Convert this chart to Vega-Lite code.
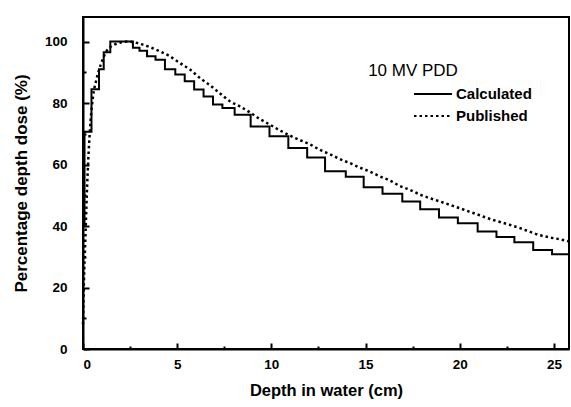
{
  "$schema": "https://vega.github.io/schema/vega-lite/v6.json",
  "width": 486,
  "height": 332,
  "autosize": "none",
  "padding": {"left": 83, "top": 17, "right": 2, "bottom": 58},
  "background": "white",
  "config": {
    "view": {"stroke": "black", "strokeWidth": 2},
    "font": "Liberation Sans",
    "axis": {
      "domainColor": "black", "domainWidth": 2, "tickColor": "black", "tickWidth": 2, "grid": false,
      "labelFont": "Liberation Sans", "labelFontWeight": "bold", "labelFontSize": 13.5, "labelColor": "black",
      "titleFont": "Liberation Sans", "titleFontWeight": "bold", "titleColor": "black"
    }
  },
  "datasets": {
    "calc": [
      {"series": "Calculated", "depth": 0, "dose": 40},
      {"series": "Calculated", "depth": 0.08, "dose": 70.7},
      {"series": "Calculated", "depth": 0.45, "dose": 84.5},
      {"series": "Calculated", "depth": 0.85, "dose": 91},
      {"series": "Calculated", "depth": 1.1, "dose": 96.5},
      {"series": "Calculated", "depth": 1.45, "dose": 100},
      {"series": "Calculated", "depth": 2.65, "dose": 98},
      {"series": "Calculated", "depth": 3.0, "dose": 97},
      {"series": "Calculated", "depth": 3.4, "dose": 95.2},
      {"series": "Calculated", "depth": 3.85, "dose": 94.1},
      {"series": "Calculated", "depth": 4.35, "dose": 91},
      {"series": "Calculated", "depth": 4.9, "dose": 89.3},
      {"series": "Calculated", "depth": 5.4, "dose": 87.1},
      {"series": "Calculated", "depth": 5.9, "dose": 84.4},
      {"series": "Calculated", "depth": 6.4, "dose": 82.1},
      {"series": "Calculated", "depth": 6.9, "dose": 79.5},
      {"series": "Calculated", "depth": 7.4, "dose": 78.4},
      {"series": "Calculated", "depth": 8.05, "dose": 76.2},
      {"series": "Calculated", "depth": 8.9, "dose": 72.4},
      {"series": "Calculated", "depth": 9.9, "dose": 69.2},
      {"series": "Calculated", "depth": 10.9, "dose": 65.4},
      {"series": "Calculated", "depth": 11.9, "dose": 62.3},
      {"series": "Calculated", "depth": 12.85, "dose": 57.8},
      {"series": "Calculated", "depth": 13.95, "dose": 56},
      {"series": "Calculated", "depth": 14.9, "dose": 52.6},
      {"series": "Calculated", "depth": 15.9, "dose": 50.5},
      {"series": "Calculated", "depth": 16.95, "dose": 48},
      {"series": "Calculated", "depth": 17.9, "dose": 45.5},
      {"series": "Calculated", "depth": 18.9, "dose": 42.8},
      {"series": "Calculated", "depth": 19.9, "dose": 40.9},
      {"series": "Calculated", "depth": 20.95, "dose": 38.2},
      {"series": "Calculated", "depth": 21.95, "dose": 36.4},
      {"series": "Calculated", "depth": 22.9, "dose": 34.7},
      {"series": "Calculated", "depth": 23.9, "dose": 32.2},
      {"series": "Calculated", "depth": 24.9, "dose": 30.8},
      {"series": "Calculated", "depth": 25.8, "dose": 30.8}
    ],
    "pub": [
      {"series": "Published", "depth": 0, "dose": 8},
      {"series": "Published", "depth": 0.05, "dose": 22},
      {"series": "Published", "depth": 0.12, "dose": 35},
      {"series": "Published", "depth": 0.2, "dose": 50},
      {"series": "Published", "depth": 0.3, "dose": 64},
      {"series": "Published", "depth": 0.4, "dose": 74},
      {"series": "Published", "depth": 0.53, "dose": 82},
      {"series": "Published", "depth": 0.71, "dose": 87.6},
      {"series": "Published", "depth": 0.97, "dose": 93},
      {"series": "Published", "depth": 1.24, "dose": 96.8},
      {"series": "Published", "depth": 1.5, "dose": 98.5},
      {"series": "Published", "depth": 1.77, "dose": 99.3},
      {"series": "Published", "depth": 2.05, "dose": 99.8},
      {"series": "Published", "depth": 2.35, "dose": 100},
      {"series": "Published", "depth": 2.6, "dose": 99.9},
      {"series": "Published", "depth": 3.02, "dose": 99.3},
      {"series": "Published", "depth": 3.55, "dose": 98.2},
      {"series": "Published", "depth": 4.09, "dose": 96.8},
      {"series": "Published", "depth": 4.62, "dose": 95.2},
      {"series": "Published", "depth": 5.15, "dose": 93.0},
      {"series": "Published", "depth": 5.68, "dose": 90.9},
      {"series": "Published", "depth": 6.2, "dose": 88.2},
      {"series": "Published", "depth": 6.74, "dose": 85.8},
      {"series": "Published", "depth": 7.2, "dose": 83.5},
      {"series": "Published", "depth": 7.8, "dose": 80.6},
      {"series": "Published", "depth": 8.33, "dose": 78.9},
      {"series": "Published", "depth": 8.86, "dose": 77},
      {"series": "Published", "depth": 9.39, "dose": 74.8},
      {"series": "Published", "depth": 9.92, "dose": 73},
      {"series": "Published", "depth": 10.45, "dose": 71.1},
      {"series": "Published", "depth": 11.0, "dose": 69.4},
      {"series": "Published", "depth": 11.5, "dose": 68.0},
      {"series": "Published", "depth": 12.04, "dose": 66.6},
      {"series": "Published", "depth": 12.57, "dose": 64.8},
      {"series": "Published", "depth": 13.1, "dose": 63.4},
      {"series": "Published", "depth": 13.63, "dose": 61.8},
      {"series": "Published", "depth": 14.16, "dose": 60.5},
      {"series": "Published", "depth": 14.7, "dose": 59},
      {"series": "Published", "depth": 15.2, "dose": 57.8},
      {"series": "Published", "depth": 15.75, "dose": 56.2},
      {"series": "Published", "depth": 16.3, "dose": 54.8},
      {"series": "Published", "depth": 16.8, "dose": 53.1},
      {"series": "Published", "depth": 17.35, "dose": 51.8},
      {"series": "Published", "depth": 17.9, "dose": 50.2},
      {"series": "Published", "depth": 18.4, "dose": 49.1},
      {"series": "Published", "depth": 18.94, "dose": 48},
      {"series": "Published", "depth": 19.47, "dose": 46.9},
      {"series": "Published", "depth": 20, "dose": 45.8},
      {"series": "Published", "depth": 20.5, "dose": 44.7},
      {"series": "Published", "depth": 21.06, "dose": 43.5},
      {"series": "Published", "depth": 21.6, "dose": 42.3},
      {"series": "Published", "depth": 22.1, "dose": 41.4},
      {"series": "Published", "depth": 22.65, "dose": 40.4},
      {"series": "Published", "depth": 23.2, "dose": 39.3},
      {"series": "Published", "depth": 23.7, "dose": 38.2},
      {"series": "Published", "depth": 24.2, "dose": 37.1},
      {"series": "Published", "depth": 24.77, "dose": 36.3},
      {"series": "Published", "depth": 25.3, "dose": 35.7},
      {"series": "Published", "depth": 25.8, "dose": 35}
    ]
  },
  "encoding": {
    "x": {
      "field": "depth", "type": "quantitative",
      "scale": {"domain": [0, 25.8], "nice": false, "zero": false},
      "axis": {
        "title": "Depth in water (cm)",
        "titleFontSize": 16.5,
        "values": [0, 2.5, 5, 7.5, 10, 12.5, 15, 17.5, 20, 22.5, 25],
        "labelExpr": "datum.value % 5 === 0 ? datum.label : ''",
        "tickSize": {"condition": {"test": "datum.value % 5 === 0", "value": -6}, "value": -3},
        "labelPadding": 14,
        "titlePadding": 12
      }
    },
    "y": {
      "field": "dose", "type": "quantitative",
      "scale": {"domain": [0, 108], "nice": false},
      "axis": {
        "title": "Percentage depth dose (%)",
        "titleFontSize": 17,
        "values": [0, 10, 20, 30, 40, 50, 60, 70, 80, 90, 100],
        "labelExpr": "datum.value % 20 === 0 ? datum.label : ''",
        "tickSize": {"condition": {"test": "datum.value % 20 === 0", "value": -6}, "value": -3},
        "labelPadding": 22,
        "titlePadding": 14
      }
    },
    "strokeDash": {
      "field": "series", "type": "nominal",
      "scale": {"domain": ["Calculated", "Published"], "range": [[1, 0], [2.5, 3]]},
      "legend": {
        "orient": "none", "legendX": 285, "legendY": 46, "padding": 0,
        "title": "10 MV PDD", "titleFont": "Liberation Sans", "titleFontWeight": "normal", "titleFontSize": 17, "titleColor": "black",
        "titleAnchor": "start", "titleAlign": "center", "titlePadding": 5,
        "symbolType": "stroke", "symbolSize": 1444, "symbolStrokeColor": "black", "symbolStrokeWidth": 2,
        "clipHeight": 18, "rowPadding": 4, "labelOffset": 3,
        "labelFont": "Liberation Sans", "labelFontWeight": "bold", "labelFontSize": 15, "labelColor": "black"
      }
    }
  },
  "layer": [
    {
      "data": {"name": "calc"},
      "mark": {"type": "line", "interpolate": "step-after", "color": "black", "strokeWidth": 2}
    },
    {
      "data": {"name": "pub"},
      "mark": {"type": "line", "interpolate": "monotone", "color": "black", "strokeWidth": 2.5}
    }
  ]
}
